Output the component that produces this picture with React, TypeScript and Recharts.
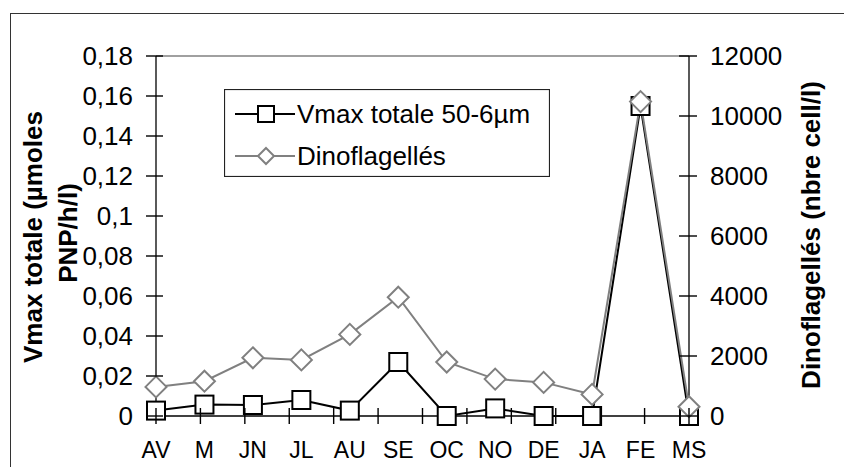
import {
  ComposedChart,
  Line,
  XAxis,
  YAxis,
  Legend,
  ReferenceLine,
} from 'recharts';

const months: string[] = ['AV', 'M', 'JN', 'JL', 'AU', 'SE', 'OC', 'NO', 'DE', 'JA', 'FE', 'MS'];
const vmaxValues: number[] = [0.0027, 0.0057, 0.0055, 0.008, 0.0027, 0.027, 0, 0.0038, 0, 0, 0.155, 0];
const dinoValues: number[] = [970, 1160, 1940, 1870, 2720, 3960, 1800, 1230, 1120, 720, 10480, 310];
const leftTicks: number[] = [0, 0.02, 0.04, 0.06, 0.08, 0.1, 0.12, 0.14, 0.16, 0.18];
const rightTicks: number[] = [0, 2000, 4000, 6000, 8000, 10000, 12000];

const vmaxName = 'Vmax totale 50-6µm';
const dinoName = 'Dinoflagellés';

const data = months.map((m, i) => ({ month: m, vmax: vmaxValues[i], dino: dinoValues[i] }));

const FONT = '"Liberation Sans", Arial, sans-serif';
const CHART_W = 844;
const CHART_H = 467;
const TOP = 56;
const LEFT_W = 156;
const RIGHT_W = 155;
const XAXIS_H = 51;
const PLOT_L = LEFT_W;
const PLOT_R = CHART_W - RIGHT_W;
const PLOT_B = CHART_H - XAXIS_H;
const BAND = (PLOT_R - PLOT_L) / months.length;
const LEFT_MAX = leftTicks[leftTicks.length - 1];
const RIGHT_MAX = rightTicks[rightTicks.length - 1];

const LeftTick = (props: any) => (
  <text x={Number(props.x) - 23} y={Number(props.y)} dy="0.36em" textAnchor="end"
    fontSize={26} fontFamily={FONT} fill="#000">
    {String(props.payload.value).replace('.', ',')}
  </text>
);

const RightTick = (props: any) => (
  <text x={Number(props.x) + 21} y={Number(props.y)} dy="0.36em" textAnchor="start"
    fontSize={26} fontFamily={FONT} fill="#000">
    {props.payload.value}
  </text>
);

const MonthTick = (props: any) => (
  <text x={Number(props.x)} y={Number(props.y) + 42} textAnchor="middle"
    fontSize={23} fontFamily={FONT} fill="#000">
    {props.payload.value}
  </text>
);

// crossing tick marks of the spreadsheet axes, laid over the chart
const TickMarks = () => {
  const yl = (v: number) => PLOT_B - (v / LEFT_MAX) * (PLOT_B - TOP);
  const yr = (v: number) => PLOT_B - (v / RIGHT_MAX) * (PLOT_B - TOP);
  const bounds = Array.from({ length: months.length + 1 }, (_, i) => PLOT_L + BAND * i);
  return (
    <svg width={CHART_W} height={CHART_H}
      style={{ position: 'absolute', left: 0, top: 0, zIndex: 5, pointerEvents: 'none' }}>
      {leftTicks.map((v) => (
        <line key={`l${v}`} x1={PLOT_L - 10} x2={PLOT_L + 7} y1={yl(v)} y2={yl(v)} stroke="#000" strokeWidth={1.4} />
      ))}
      {rightTicks.map((v) => (
        <line key={`r${v}`} x1={PLOT_R - 10} x2={PLOT_R + 8} y1={yr(v)} y2={yr(v)} stroke="#000" strokeWidth={1.4} />
      ))}
      {bounds.map((x, i) => (
        <line key={`b${i}`} x1={x} x2={x} y1={PLOT_B - 8} y2={PLOT_B + 8} stroke="#000" strokeWidth={1.4} />
      ))}
    </svg>
  );
};

const renderSquare = (props: any) => {
  const { cx, cy, index } = props;
  return (
    <rect key={`sq-${index}`} x={cx - 9} y={cy - 9} width={18} height={18}
      fill="#fff" stroke="#000" strokeWidth={2} />
  );
};

const renderDiamond = (props: any) => {
  const { cx, cy, index } = props;
  return (
    <path key={`dm-${index}`} d={`M${cx},${cy - 10.5}L${cx + 10.5},${cy}L${cx},${cy + 10.5}L${cx - 10.5},${cy}Z`}
      fill="#fff" stroke="#808080" strokeWidth={2} />
  );
};

const LeftTitle = (props: any) => {
  const { viewBox } = props;
  const cy = viewBox.y + viewBox.height / 2;
  return (
    <g fontFamily={FONT} fontSize={26} fontWeight="bold" fill="#000">
      <text x={42} y={cy + 1} textAnchor="middle" transform={`rotate(-90, 42, ${cy + 1})`}>
        Vmax totale (µmoles
      </text>
      <text x={77} y={cy - 3} textAnchor="middle" transform={`rotate(-90, 77, ${cy - 3})`}>
        PNP/h/l)
      </text>
    </g>
  );
};

const RightTitle = (props: any) => {
  const { viewBox } = props;
  const cy = viewBox.y + viewBox.height / 2 - 1;
  return (
    <text x={820} y={cy} textAnchor="middle" transform={`rotate(-90, 820, ${cy})`}
      fontFamily={FONT} fontSize={26} fontWeight="bold" fill="#000">
      Dinoflagellés (nbre cell/l)
    </text>
  );
};

const LegendBox = (props: any) => {
  const items = [...(props.payload || [])].sort((a: any, b: any) =>
    (a.dataKey === 'vmax' ? 0 : 1) - (b.dataKey === 'vmax' ? 0 : 1));
  return (
    <svg width={326} height={88} style={{ display: 'block' }}>
      <rect x={0.5} y={0.5} width={325} height={87} fill="#fff" stroke="#222" strokeWidth={1.2} />
      {items.map((item: any, i: number) => {
        const cy = i === 0 ? 25 : 67;
        const isVmax = item.dataKey === 'vmax';
        const col = isVmax ? '#000' : '#808080';
        return (
          <g key={item.value}>
            <line x1={11} x2={71} y1={cy} y2={cy} stroke={col} strokeWidth={2} />
            {isVmax ? (
              <rect x={34} y={cy - 8} width={16} height={16} fill="#fff" stroke="#000" strokeWidth={2} />
            ) : (
              <path d={`M42,${cy - 8}L50,${cy}L42,${cy + 8}L34,${cy}Z`} fill="#fff" stroke="#808080" strokeWidth={2} />
            )}
            <text x={73} y={cy + 9} fontSize={26} fontFamily={FONT} fill="#000">{item.value}</text>
          </g>
        );
      })}
    </svg>
  );
};

export default function App() {
  return (
    <div style={{ position: 'absolute', left: 0, top: 0, width: CHART_W, height: CHART_H, overflow: 'hidden', background: '#fff', fontFamily: FONT }}>
      <div style={{ position: 'absolute', left: 10, top: 13, width: 900, height: 600, border: '1.5px solid #333' }} />
      <ComposedChart width={CHART_W} height={CHART_H} data={data} margin={{ top: TOP, right: 0, bottom: 0, left: 0 }}>
        <XAxis dataKey="month" height={XAXIS_H} interval={0} tickSize={0} tickMargin={0}
          tickLine={false} axisLine={{ stroke: '#000', strokeWidth: 1.3 }} tick={MonthTick} />
        <YAxis yAxisId="left" width={LEFT_W} domain={[0, LEFT_MAX]} ticks={leftTicks} interval={0}
          tickSize={0} tickMargin={0} tickLine={false} axisLine={{ stroke: '#000', strokeWidth: 1.3 }}
          tick={LeftTick} label={{ content: <LeftTitle /> }} />
        <YAxis yAxisId="right" orientation="right" width={RIGHT_W} domain={[0, RIGHT_MAX]} ticks={rightTicks}
          interval={0} tickSize={0} tickMargin={0} tickLine={false}
          axisLine={{ stroke: '#000', strokeWidth: 1.3 }} tick={RightTick} label={{ content: <RightTitle /> }} />
        <ReferenceLine yAxisId="left" y={LEFT_MAX} stroke="#808080" strokeWidth={1.5} />
        <Legend layout="vertical" align="center" verticalAlign="middle" content={<LegendBox />}
          wrapperStyle={{ left: 224, top: 89, width: 326, height: 88 }} />
        <Line yAxisId="left" type="linear" dataKey="vmax" name={vmaxName} stroke="#000" strokeWidth={2}
          dot={renderSquare} activeDot={false} isAnimationActive={false} />
        <Line yAxisId="right" type="linear" dataKey="dino" name={dinoName} stroke="#808080" strokeWidth={2}
          dot={renderDiamond} activeDot={false} isAnimationActive={false} />
      </ComposedChart>
      <TickMarks />
    </div>
  );
}
